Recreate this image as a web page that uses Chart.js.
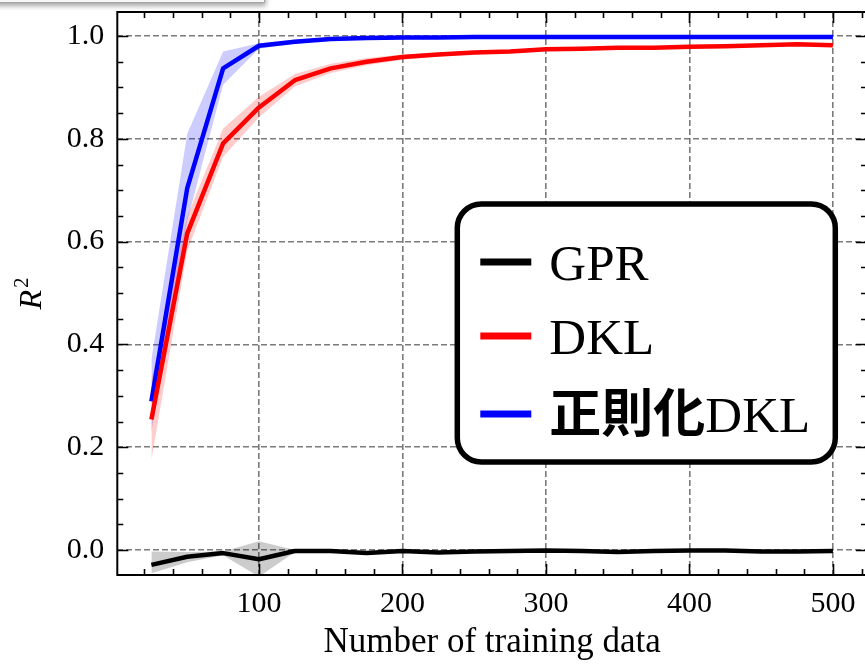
<!DOCTYPE html>
<html><head><meta charset="utf-8">
<script src="https://cdn.jsdelivr.net/npm/chart.js@4/dist/chart.umd.min.js"></script>
<style>
html,body{margin:0;padding:0;background:#fff;overflow:hidden;width:865px;height:664px;}
#wrap{position:absolute;left:0;top:0;width:872px;height:664px;}
#box{position:absolute;left:-10px;top:-30px;width:273px;height:31px;border:1px solid #a6a6a6;background:#f6f7f9;box-shadow:1px 3px 5px rgba(0,0,0,0.35);z-index:2}
</style></head><body>
<div id="wrap"><canvas id="c" width="872" height="664"></canvas></div>
<div id="box"></div>
<script>
// ---- data ----
const trainingSizes = [25,50,75,100,125,150,175,200,225,250,275,300,325,350,375,400,425,450,475,500];

const gprMean = [-0.029,-0.013,-0.006,-0.018,-0.002,-0.002,-0.006,-0.002,-0.005,-0.003,-0.002,-0.001,-0.002,-0.004,-0.002,-0.001,-0.001,-0.003,-0.003,-0.002];
const gprLow  = [-0.045,-0.024,-0.010,-0.052,-0.004,-0.004,-0.010,-0.004,-0.008,-0.005,-0.004,-0.002,-0.004,-0.006,-0.003,-0.002,-0.002,-0.005,-0.005,-0.003];
const gprHigh = [-0.003,-0.004,-0.003,0.017,0.000,0.000,-0.003,0.000,-0.002,-0.001,-0.001,0.000,0.000,-0.002,-0.001,0.000,0.000,-0.001,-0.001,-0.001];

const dklMean = [0.254,0.616,0.791,0.861,0.914,0.937,0.950,0.959,0.964,0.968,0.970,0.974,0.975,0.977,0.977,0.979,0.980,0.982,0.984,0.982];
const dklLow  = [0.175,0.582,0.765,0.842,0.902,0.928,0.943,0.954,0.960,0.965,0.967,0.971,0.972,0.974,0.975,0.977,0.978,0.980,0.982,0.980];
const dklHigh = [0.330,0.650,0.820,0.882,0.926,0.946,0.957,0.964,0.968,0.971,0.973,0.977,0.978,0.980,0.979,0.981,0.982,0.984,0.986,0.984];

const rdklMean = [0.289,0.704,0.937,0.981,0.989,0.994,0.996,0.997,0.997,0.998,0.998,0.998,0.998,0.998,0.998,0.998,0.998,0.998,0.998,0.998];
const rdklLow  = [0.230,0.640,0.905,0.975,0.985,0.991,0.994,0.995,0.996,0.996,0.996,0.996,0.996,0.996,0.996,0.996,0.996,0.996,0.996,0.996];
const rdklHigh = [0.370,0.810,0.970,0.986,0.993,0.997,0.998,0.999,0.999,0.999,0.999,0.999,0.999,0.999,0.999,0.999,0.999,0.999,0.999,0.999];

const seriesNames  = ['GPR','DKL','正則化DKL'];
const seriesColors = ['#000000','#ff0000','#0000ff'];
const bandColors   = ['rgba(0,0,0,0.2)','rgba(255,0,0,0.2)','rgba(0,0,255,0.2)'];

const xTickValues = [100,200,300,400,500];
const yTickValues = [0.0,0.2,0.4,0.6,0.8,1.0];
const xTitle = 'Number of training data';
const yTitle = 'R';
const yTitleSup = '2';

// ---- build datasets ----
const pts = arr => trainingSizes.map((x,i)=>({x:x, y:arr[i]}));
const means = [gprMean, dklMean, rdklMean];
const lows  = [gprLow, dklLow, rdklLow];
const highs = [gprHigh, dklHigh, rdklHigh];
const datasets = [];
for (let s=0; s<3; s++) {
  datasets.push({label:seriesNames[s]+' upper', data:pts(highs[s]), borderColor:'transparent', borderWidth:0,
    backgroundColor:bandColors[s], fill:'+1', pointRadius:0, tension:0, order:3});
  datasets.push({label:seriesNames[s]+' lower', data:pts(lows[s]), borderColor:'transparent', borderWidth:0,
    backgroundColor:bandColors[s], fill:false, pointRadius:0, tension:0, order:3});
}
for (let s=0; s<3; s++) {
  datasets.push({label:seriesNames[s], data:pts(means[s]), borderColor:seriesColors[s], borderWidth:4.5,
    fill:false, pointRadius:0, tension:0, order:1, borderJoinStyle:'round', borderCapStyle:'butt'});
}

const serif = '"Liberation Serif", "Times New Roman", serif';

const framePlugin = {
  id:'frame',
  afterDatasetsDraw(chart){
    const {ctx, chartArea:a, scales:{x, y}} = chart;
    ctx.save();
    ctx.strokeStyle = '#000';
    ctx.lineWidth = 1.6;
    ctx.beginPath();
    const major = 11, minor = 6;
    for (let v = 20; v < x.max; v += 20) {
      if (v < x.min) continue;
      const px = Math.round(x.getPixelForValue(v)) + 0.5;
      const L = (v % 100 === 0) ? major : minor;
      ctx.moveTo(px, a.bottom); ctx.lineTo(px, a.bottom - L);
      ctx.moveTo(px, a.top); ctx.lineTo(px, a.top + L);
    }
    for (let k = 0; k <= 20; k++) {
      const v = k * 0.05;
      if (v < y.min || v > y.max) continue;
      const py = Math.round(y.getPixelForValue(v)) + 0.5;
      const L = (k % 4 === 0) ? major : minor;
      ctx.moveTo(a.left, py); ctx.lineTo(a.left + L, py);
      ctx.moveTo(a.right, py); ctx.lineTo(a.right - L, py);
    }
    ctx.stroke();
    ctx.lineWidth = 2;
    ctx.strokeRect(a.left, a.top, a.right - a.left, a.bottom - a.top);
    ctx.restore();
  },
  afterDraw(chart){
    const {ctx, chartArea:a} = chart;
    // y-axis title: italic R with superscript 2, rotated
    ctx.save();
    const cy = (a.top + a.bottom) / 2;
    ctx.translate(a.left - 76, cy);
    ctx.rotate(-Math.PI/2);
    ctx.fillStyle = '#000';
    ctx.textBaseline = 'alphabetic';
    ctx.font = 'italic 32px ' + serif;
    const wR = ctx.measureText(yTitle).width;
    ctx.font = '21px ' + serif;
    const w2 = ctx.measureText(yTitleSup).width;
    const start = -(wR + w2 + 2) / 2;
    ctx.font = 'italic 32px ' + serif;
    ctx.fillText(yTitle, start, 0);
    ctx.font = '21px ' + serif;
    ctx.fillText(yTitleSup, start + wR + 2, -13);
    ctx.restore();

    // legend
    ctx.save();
    const lx = a.left + 340, ly = a.top + 192, lw = 378, lh = 258, r = 24;
    ctx.beginPath();
    ctx.roundRect(lx, ly, lw, lh, r);
    ctx.fillStyle = '#ffffff';
    ctx.fill();
    ctx.lineWidth = 5.5;
    ctx.strokeStyle = '#000';
    ctx.stroke();
    const rowBase = [ly + 76, ly + 150, ly + 228];
    for (let s = 0; s < seriesNames.length; s++) {
      const b = rowBase[s];
      ctx.strokeStyle = seriesColors[s];
      ctx.lineWidth = 7;
      ctx.beginPath();
      ctx.moveTo(lx + 23, b - 18);
      ctx.lineTo(lx + 74, b - 18);
      ctx.stroke();
      let tx = lx + 92;
      const segs = seriesNames[s].match(/[\u3000-\u9fff]+|[^\u3000-\u9fff]+/g);
      ctx.fillStyle = '#000';
      ctx.textBaseline = 'alphabetic';
      for (const seg of segs) {
        if (/[\u3000-\u9fff]/.test(seg)) ctx.font = 'bold 52px "Noto Sans CJK JP", sans-serif';
        else ctx.font = '51px ' + serif;
        ctx.fillText(seg, tx, b);
        tx += ctx.measureText(seg).width;
      }
    }
    ctx.restore();
  }
};

new Chart(document.getElementById('c'), {
  type:'line',
  data:{datasets:datasets},
  options:{
    responsive:false,
    animation:false,
    devicePixelRatio:1,
    layout:{padding:{top:12, right:5, left:0, bottom:0}},
    plugins:{legend:{display:false}, tooltip:{enabled:false}},
    scales:{
      x:{
        type:'linear', min:1.25, max:523.75,
        afterBuildTicks:s=>{ s.ticks = xTickValues.map(v=>({value:v})); },
        afterFit:s=>{ s.height = 89; s.paddingLeft = 0; s.paddingRight = 0; },
        ticks:{color:'#000', font:{family:serif, size:30}, padding:11, maxRotation:0, autoSkip:false,
               callback:v=>String(v)},
        grid:{color:'rgba(100,100,100,0.85)', lineWidth:1.6, drawTicks:false},
        border:{display:false, dash:[6,3]},
        title:{display:true, text:xTitle, color:'#000', font:{family:serif, size:35}, padding:{top:0, bottom:0}}
      },
      y:{
        type:'linear', min:-0.0486, max:1.0467,
        afterBuildTicks:s=>{ s.ticks = yTickValues.map(v=>({value:v})); },
        afterFit:s=>{ s.width = 117.3; s.paddingTop = 0; s.paddingBottom = 0; },
        ticks:{color:'#000', font:{family:serif, size:30}, padding:13, autoSkip:false,
               callback:v=>Number(v).toFixed(1)},
        grid:{color:'rgba(100,100,100,0.85)', lineWidth:1.6, drawTicks:false},
        border:{display:false, dash:[6,3]}
      }
    }
  },
  plugins:[framePlugin]
});
</script>
</body></html>
